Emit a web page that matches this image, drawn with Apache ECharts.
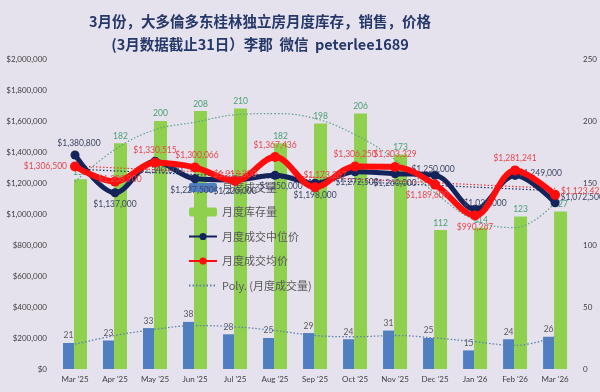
<!DOCTYPE html>
<html><head><meta charset="utf-8">
<script src="https://cdn.jsdelivr.net/npm/echarts@6/dist/echarts.min.js"></script>
<style>html,body{margin:0;padding:0;background:#e6e2ed;}#c{width:600px;height:392px;}</style>
</head><body><div id="c"></div>
<script>
const categories = ["Mar '25","Apr '25","May '25","Jun '25","Jul '25","Aug '25","Sep '25","Oct '25","Nov '25","Dec '25","Jan '26","Feb '26","Mar '26"];
const salesVolume = [21,23,33,38,28,25,29,24,31,25,15,24,26];
const inventory = [153,182,200,208,210,182,198,206,173,112,114,123,127];
const medianPrice = [1380800,1137000,1340000,1227500,1220000,1250000,1198000,1272500,1260000,1250000,1030000,1249000,1072500];
const avgPrice = [1306500,1208900,1330515,1300066,1213300,1367436,1173267,1306250,1303329,1189600,990267,1281241,1123426];
const salesTrend = [20,27,32,35,34,31,27,26,27,25,22,19,26];
const inventoryTrend = [151,177,193,199,205,206,202,189,169,142,120,114,134];
const medianTrendEnds = [1290000,1150000];
const avgTrendEnds = [1310000,1165000];
const seriesNames = ['月度成交量','月度库存量','月度成交中位价','月度成交均价','Poly. (月度成交量)'];
const titleLines = ['3月份，大多倫多东桂林独立房月度库存，销售，价格','(3月数据截止31日）李郡  微信  peterlee1689'];

const fmt$ = v => '$' + Math.round(v).toString().replace(/\B(?=(\d{3})+(?!\d))/g, ',');
const medLabelPos = [['top',[4,0]],['bottom',[0,0]],['bottom',[6,-3]],['bottom',[-3,0]],['bottom',[0,0]],['bottom',[6,-1]],['bottom',[0,0]],['bottom',[2,-1]],['bottom',[0,-2]],['top',[-2,6]],['top',[10,6]],['right',[-4,-2]],['right',[-2,-5]]];
const avgLabelPos = [['left',[0,0]],['top',[5,10]],['top',[0,0]],['top',[2,0]],['top',[0,6]],['top',[0,0]],['top',[10,0]],['top',[0,0]],['top',[0,0]],['bottom',[-8,-2]],['bottom',[0,0]],['top',[0,0]],['right',[-2,-4]]];
const withLabels = (vals, pos) => vals.map((v,i)=>({value:v,label:{position:pos[i][0],offset:pos[i][1]}}));
const ends = (e) => categories.map((c,i)=> i===0 ? e[0] : (i===categories.length-1 ? e[1] : null));

const FONT = 'Lato, "Noto Sans CJK SC", sans-serif';
const chart = echarts.init(document.getElementById('c'), null, {renderer:'canvas'});
chart.setOption({
  backgroundColor:'#e6e2ed',
  animation:false,
  textStyle:{fontFamily:FONT},
  title:{
    text: titleLines.join('\n'),
    left: 255, top: 5, textAlign:'center',
    textStyle:{fontFamily:'"Noto Sans CJK SC", sans-serif', fontSize:14.5, fontWeight:'bold', color:'#25386a', lineHeight:23}
  },
  legend:{
    orient:'vertical', left:183, top:177, itemGap:13.5, itemWidth:28, itemHeight:9,
    data: seriesNames.map((n,i)=> i===4 ? {name:n, itemStyle:{opacity:0}} : n),
    textStyle:{fontFamily:'"Noto Sans CJK SC", sans-serif', fontSize:11, color:'#595959'}
  },
  grid:{left:55, right:23, top:59, bottom:23},
  xAxis:{
    type:'category', data:categories,
    axisLine:{show:false}, axisTick:{show:false},
    axisLabel:{fontSize:8, color:'#404040', margin:6}
  },
  yAxis:[
    {type:'value', min:0, max:2000000, interval:200000, splitLine:{show:false},
     axisLabel:{fontSize:8, color:'#404040', formatter:fmt$, margin:8}},
    {type:'value', min:0, max:250, interval:50, splitLine:{show:false},
     axisLabel:{fontSize:8, color:'#404040', margin:8}}
  ],
  series:[
    {name:seriesNames[0], type:'bar', yAxisIndex:1, data:salesVolume, barWidth:11, barGap:'0%',
     itemStyle:{color:'#4f7fc0'},
     label:{show:true, position:'top', fontSize:8.5, color:'#595959', distance:3}},
    {name:seriesNames[1], type:'bar', yAxisIndex:1, data:inventory, barWidth:13, barGap:'0%',
     itemStyle:{color:'#8fd14f'},
     label:{show:true, position:'top', fontSize:8.5, color:'#4aa072', distance:3}},
    {name:seriesNames[4], type:'line', yAxisIndex:1, data:salesTrend, smooth:0.4, symbol:'none', z:3,
     lineStyle:{color:'#5b7fae', width:1.3, type:[1.5,2]}},
    {name:'库存趋势', type:'line', yAxisIndex:1, data:inventoryTrend, smooth:0.4, symbol:'none', z:3,
     lineStyle:{color:'#5aa086', width:1.2, type:[1.5,2]}},
    {name:'中位价趋势', type:'line', yAxisIndex:0, data:ends(medianTrendEnds), connectNulls:true, symbol:'none', z:3,
     lineStyle:{color:'#203060', width:1.2, type:[1.5,2]}},
    {name:'均价趋势', type:'line', yAxisIndex:0, data:ends(avgTrendEnds), connectNulls:true, symbol:'none', z:3,
     lineStyle:{color:'#e53030', width:1.2, type:[1.5,2]}},
    {name:seriesNames[2], type:'line', yAxisIndex:0, data:withLabels(medianPrice, medLabelPos), smooth:0.35, z:5,
     symbol:'circle', symbolSize:9, itemStyle:{color:'#14245a'}, lineStyle:{color:'#14245a', width:5},
     label:{show:true, fontSize:8.5, color:'#3d4766', formatter:p=>fmt$(p.value), distance:3}},
    {name:seriesNames[3], type:'line', yAxisIndex:0, data:withLabels(avgPrice, avgLabelPos), smooth:0.35, z:6,
     symbol:'circle', symbolSize:10, itemStyle:{color:'#ff0d0d'}, lineStyle:{color:'#ff0d0d', width:6},
     label:{show:true, fontSize:8.5, color:'#e2484c', formatter:p=>fmt$(p.value), distance:3}}
  ]
});
</script></body></html>
